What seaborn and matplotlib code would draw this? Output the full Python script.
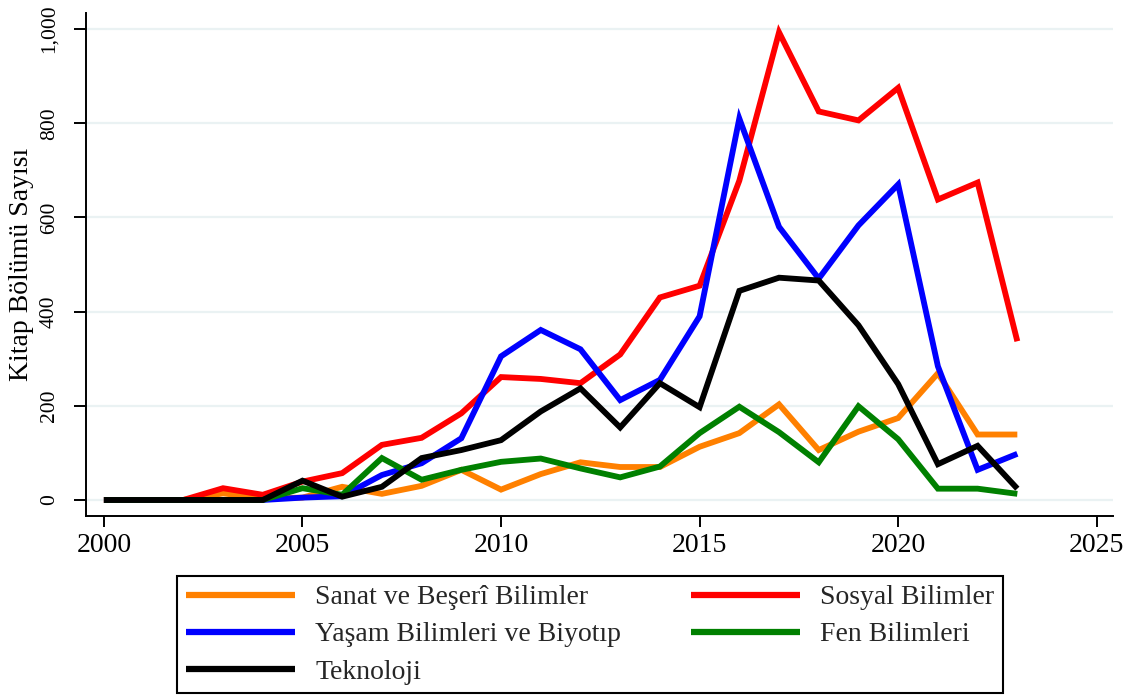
# Kitap bölümü sayıları - bilim alanlarına göre yıllık seyir

import matplotlib
matplotlib.use('Agg')
import matplotlib.pyplot as plt
from matplotlib.ticker import StrMethodFormatter
import pandas as pd
import seaborn as sns

years = list(range(2000, 2024))

sanat = [0, 0, 0, 14, 4, 5, 28, 13, 30, 64, 22, 55, 80, 70, 70, 113, 142, 203, 106, 145, 174, 269, 139, 139]
sosyal = [0, 0, 0, 25, 11, 39, 57, 117, 132, 184, 261, 257, 248, 309, 430, 455, 678, 993, 825, 806, 875, 638, 674, 337]
yasam = [0, 0, 0, 0, 0, 5, 8, 53, 78, 131, 305, 361, 320, 212, 255, 390, 810, 580, 470, 583, 670, 284, 64, 98]
fen = [0, 0, 0, 0, 0, 25, 11, 89, 43, 64, 81, 88, 67, 48, 71, 142, 198, 144, 80, 199, 129, 24, 24, 13]
teknoloji = [0, 0, 0, 0, 0, 41, 7, 28, 89, 106, 127, 188, 237, 154, 248, 197, 444, 472, 466, 371, 246, 76, 115, 24]

alanlar = ['Sanat ve Beşerî Bilimler', 'Sosyal Bilimler', 'Yaşam Bilimleri ve Biyotıp',
           'Fen Bilimleri', 'Teknoloji']
renkler = ['#ff8000', '#ff0000', '#0000ff', '#008000', '#000000']

y_ticks = [0, 200, 400, 600, 800, 1000]
x_ticks = [2000, 2005, 2010, 2015, 2020, 2025]

# long format table for seaborn
df = pd.concat([
    pd.DataFrame({'Yıl': years, 'Sayı': vals, 'Alan': name})
    for name, vals in zip(alanlar, [sanat, sosyal, yasam, fen, teknoloji])
])

sns.set_style("white")
plt.rcParams['font.family'] = ['Liberation Serif', 'DejaVu Serif']

fig = plt.figure(figsize=(11.29, 6.97), dpi=100)
fig.subplots_adjust(left=0.0762, right=0.9855, bottom=0.2597, top=0.982)
ax = fig.add_subplot(111)

sns.lineplot(data=df, x='Yıl', y='Sayı', hue='Alan', hue_order=alanlar,
             palette=dict(zip(alanlar, renkler)), linewidth=4.2, ax=ax)
for ln in ax.get_lines():
    ln.set_solid_capstyle('butt')
    ln.set_solid_joinstyle('miter')

ax.set_xlim(1999.55, 2025.4)
ax.set_ylim(-34, 1035)
ax.set_xticks(x_ticks)
ax.set_yticks(y_ticks)
ax.yaxis.set_major_formatter(StrMethodFormatter('{x:,.0f}'))

ax.grid(axis='y', color='#eaf2f3', linewidth=1.6)
ax.grid(axis='x', visible=False)
ax.set_axisbelow(True)

for side in ['top', 'right']:
    ax.spines[side].set_visible(False)
for side in ['left', 'bottom']:
    ax.spines[side].set_color('black')
    ax.spines[side].set_linewidth(1.4)

ax.tick_params(axis='x', direction='out', length=8, width=1.4, pad=4,
               labelsize=20, colors='black', bottom=True)
ax.tick_params(axis='y', direction='out', length=8.6, width=1.4, pad=11,
               labelsize=15.5, colors='black', labelrotation=90, left=True)
for lab in ax.get_yticklabels():
    lab.set_va('center')

ax.set_xlabel('')
ax.set_ylabel('Kitap Bölümü Sayısı', fontsize=20, color='black')
ax.yaxis.set_label_coords(-0.051, 0.5)

# legend: matplotlib fills columns first, so reorder
handles, labels = ax.get_legend_handles_labels()
lookup = dict(zip(labels, handles))
order = ['Sanat ve Beşerî Bilimler', 'Yaşam Bilimleri ve Biyotıp', 'Teknoloji',
         'Sosyal Bilimler', 'Fen Bilimleri']
leg = fig.legend([lookup[k] for k in order], order, ncol=2, loc='upper left',
                 bbox_to_anchor=(0.1565, 0.1736),
                 fontsize=20, frameon=True, fancybox=False, framealpha=1,
                 edgecolor='black', handlelength=3.95, handletextpad=0.72,
                 columnspacing=2.5, labelspacing=0.42, borderpad=0.32,
                 borderaxespad=0.0)
leg.get_frame().set_linewidth(1.5)
for ln in leg.get_lines():
    ln.set_linewidth(4.5)
if ax.get_legend() is not None:
    ax.get_legend().remove()

fig.savefig('out.png', dpi=100)
